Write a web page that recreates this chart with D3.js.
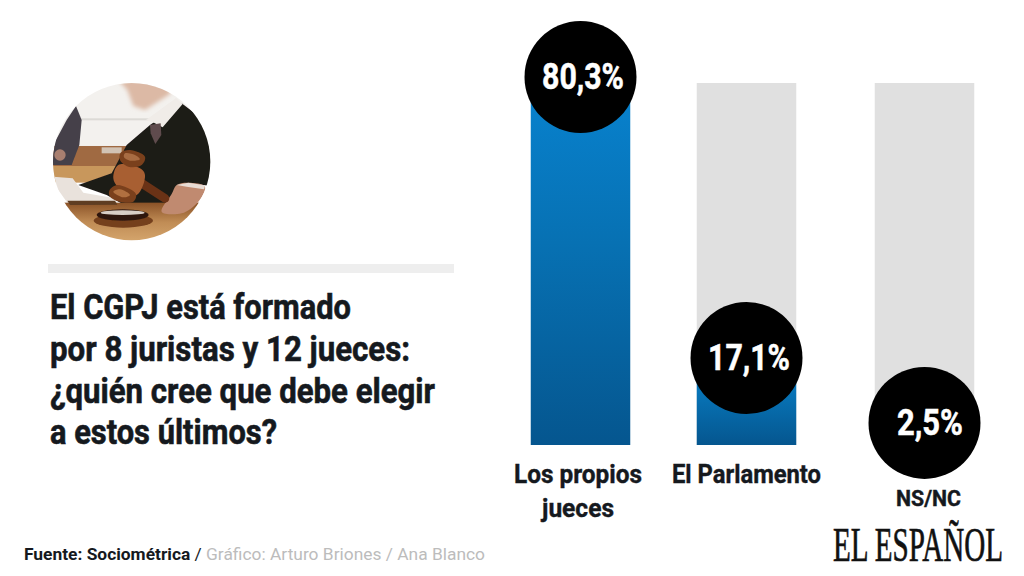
<!DOCTYPE html>
<html>
<head>
<meta charset="utf-8">
<script src="https://cdn.jsdelivr.net/npm/d3@7"></script>
<style>
html,body{margin:0;padding:0;background:#fff;}
svg{display:block;}
text{font-family:Roboto,sans-serif;font-weight:700;fill:#15191e;}
</style>
</head>
<body>
<svg id="chart"></svg>
<script>
var categories=["Los propios jueces","El Parlamento","NS/NC"];
var values=[80.3,17.1,2.5];
var valueLabels=["80,3%","17,1%","2,5%"];
var labelLines=[["Los propios","jueces"],["El Parlamento"],["NS/NC"]];
var titleLines=["El CGPJ está formado","por 8 juristas y 12 jueces:","¿quién cree que debe elegir","a estos últimos?"];

var w=1024;
var h=576;
var barWidth=99.5;
var baseline=445;
var trackTop=83;
var radius=56;

var svg=d3.select("#chart")
          .attr("width",w)
          .attr("height",h);
var defs=svg.append("defs");

var grad=defs.append("linearGradient")
             .attr("id","blue")
             .attr("x1",0).attr("y1",0).attr("x2",0).attr("y2",1);
grad.append("stop").attr("offset","0%").attr("stop-color","#0883d0");
grad.append("stop").attr("offset","45%").attr("stop-color","#0771b3");
grad.append("stop").attr("offset","100%").attr("stop-color","#05568f");

var xScale=d3.scaleOrdinal()
             .domain(categories)
             .range([580.5,746.5,924.5]);
var yScale=d3.scaleLinear()
             .domain([0,80.3])
             .range([434,77]);

// grey tracks (the first one is fully covered by its blue bar)
svg.selectAll("rect.track")
   .data(categories.slice(1))
   .enter()
   .append("rect")
   .classed("track",true)
   .attr("x",function(d){return xScale(d)-barWidth/2;})
   .attr("y",trackTop)
   .attr("width",barWidth)
   .attr("height",baseline-trackTop)
   .attr("fill","#e0e0e0");

svg.selectAll("rect.bar")
   .data(values)
   .enter()
   .append("rect")
   .classed("bar",true)
   .attr("x",function(d,i){return xScale(categories[i])-barWidth/2;})
   .attr("y",function(d){return yScale(d);})
   .attr("width",barWidth)
   .attr("height",function(d){return baseline-yScale(d);})
   .attr("fill","url(#blue)");

svg.selectAll("circle.bubble")
   .data(values)
   .enter()
   .append("circle")
   .classed("bubble",true)
   .attr("cx",function(d,i){return xScale(categories[i]);})
   .attr("cy",function(d){return yScale(d);})
   .attr("r",radius)
   .attr("fill","#000");

var valueWidths=[82,82,66];
svg.selectAll("text.value")
   .data(values)
   .enter()
   .append("text")
   .classed("value",true)
   .attr("x",function(d,i){return xScale(categories[i])+(i==2?5.5:2.5);})
   .attr("y",function(d){return yScale(d)+12;})
   .attr("text-anchor","middle")
   .attr("font-size",36)
   .attr("textLength",function(d,i){return valueWidths[i];})
   .attr("lengthAdjust","spacingAndGlyphs")
   .style("fill","#fff")
   .style("stroke","#fff")
   .style("stroke-width",0.5)
   .text(function(d,i){return valueLabels[i];});

// category labels
var labelWidths=[[128,72],[149],[65]];
var labelSizes=[26,26,22];
var labelY=[483,483,506];
labelLines.forEach(function(lines,i){
  lines.forEach(function(line,j){
    svg.append("text")
       .attr("x",i==2?928.5:(i==0?578:746.5))
       .attr("y",labelY[i]+j*34)
       .attr("text-anchor","middle")
       .attr("font-size",labelSizes[i])
       .attr("textLength",labelWidths[i][j])
       .attr("lengthAdjust","spacingAndGlyphs")
       .style("stroke","#15191e")
       .style("stroke-width",0.4)
       .text(line);
  });
});

// left column
svg.append("rect")
   .attr("x",48).attr("y",264)
   .attr("width",406).attr("height",9)
   .attr("fill","#eeeeee");

var titleWidths=[301,360,385,227];
var titleY=[319,361,403,444];
titleLines.forEach(function(line,i){
  svg.append("text")
     .attr("x",50)
     .attr("y",titleY[i])
     .attr("font-size",35)
     .attr("textLength",titleWidths[i])
     .attr("lengthAdjust","spacingAndGlyphs")
     .style("stroke","#15191e")
     .style("stroke-width",0.6)
     .text(line);
});

var foot=svg.append("text")
            .attr("x",24)
            .attr("y",560)
            .attr("font-size",16.5)
            .attr("textLength",461)
            .attr("lengthAdjust","spacingAndGlyphs");
foot.append("tspan").style("font-weight",700).text("Fuente: Sociométrica");
foot.append("tspan").style("font-weight",400).text(" / ");
foot.append("tspan").style("font-weight",400).style("fill","#bcbcbc").text("Gráfico: Arturo Briones / Ana Blanco");

// logo: squeezed with a transform so the text box stays inside the page
var logo=svg.append("text")
            .attr("font-size",48)
            .style("font-family","'Liberation Serif',serif")
            .style("font-weight",400)
            .style("fill","#111")
            .style("stroke","#111")
            .style("stroke-width",0.7)
            .text("EL ESPAÑOL");
logo.attr("transform","translate(833,561) scale("+(170/logo.node().getComputedTextLength())+",1)");

// round photo of the judge, traced in a 3x space so it lines up with the crop
defs.append("clipPath").attr("id","photoClip")
    .append("circle").attr("cx",305).attr("cy",275).attr("r",236);
var blur=defs.append("filter").attr("id","soft");
blur.append("feGaussianBlur").attr("stdDeviation",2);
var blurBig=defs.append("filter").attr("id","softer");
blurBig.append("feGaussianBlur").attr("stdDeviation",6);
var wood=defs.append("linearGradient").attr("id","table")
             .attr("x1",0).attr("y1",0).attr("x2",0).attr("y2",1);
wood.append("stop").attr("offset","0%").attr("stop-color","#8a5227");
wood.append("stop").attr("offset","45%").attr("stop-color","#c08c55");
wood.append("stop").attr("offset","100%").attr("stop-color","#d9ab72");

var photo=svg.append("g")
             .attr("transform","translate(30,70) scale(0.3333)")
             .attr("clip-path","url(#photoClip)")
             .append("g");
function shape(pts,fill,filter){
  photo.append("path")
       .attr("d",d3.line().curve(d3.curveCatmullRomClosed.alpha(0.5))(pts))
       .attr("fill",fill)
       .attr("filter",filter||"url(#soft)");
}
function poly(pts,fill,filter){
  photo.append("polygon")
       .attr("points",pts.map(function(p){return p.join(",");}).join(" "))
       .attr("fill",fill)
       .attr("filter",filter||"url(#soft)");
}
photo.append("rect").attr("x",60).attr("y",30).attr("width",500).attr("height",300).attr("fill","#f3f1ee");
photo.append("rect").attr("x",150).attr("y",145).attr("width",220).attr("height",6).attr("fill","#dcdad6").attr("filter","url(#soft)");
photo.append("rect").attr("x",60).attr("y",228).attr("width",260).attr("height",60).attr("fill","#a06b43").attr("filter","url(#soft)");
photo.append("rect").attr("x",215).attr("y",232).attr("width",60).attr("height",18).attr("fill","#d2c3b4").attr("filter","url(#soft)");
photo.append("rect").attr("x",60).attr("y",288).attr("width",260).attr("height",50).attr("fill","#c8975c").attr("filter","url(#soft)");
poly([[60,285],[75,215],[110,150],[138,108],[155,150],[148,225],[125,285]],"#45404a");
photo.append("circle").attr("cx",90).attr("cy",255).attr("r",17).attr("fill","#a97f70").attr("filter","url(#soft)");
poly([[145,345],[245,310],[290,225],[360,165],[455,100],[560,180],[560,350],[520,345],[470,340],[420,405],[300,415],[230,375]],"#1f1a18");
poly([[265,30],[425,30],[420,72],[345,120],[310,108],[292,60]],"#dcb9a5","url(#softer)");
poly([[348,150],[438,84],[458,102],[398,172],[372,158]],"#f0ece8");
poly([[360,165],[392,160],[394,195],[376,222],[362,190]],"#5f4c4d");
poly([[70,320],[128,325],[160,368],[255,385],[262,402],[112,398],[78,350]],"#e9e2dc");
photo.append("rect").attr("x",60).attr("y",398).attr("width",500).attr("height",130).attr("fill","url(#table)");
poly([[112,392],[255,392],[262,404],[120,405]],"#5e3c22");
// hand
shape([[395,425],[425,372],[440,345],[475,338],[525,350],[505,395],[455,430]],"#c08a70");
poly([[440,345],[475,338],[525,346],[522,358],[470,350]],"#e8dcd4");
// sound block
photo.append("ellipse").attr("cx",280).attr("cy",452).attr("rx",89).attr("ry",21).attr("fill","#74401f").attr("filter","url(#soft)");
photo.append("ellipse").attr("cx",278).attr("cy",435).attr("rx",78).attr("ry",17).attr("fill","#2e1810").attr("filter","url(#soft)");
photo.append("ellipse").attr("cx",278).attr("cy",428).attr("rx",66).attr("ry",7).attr("fill","#d8cec6").attr("filter","url(#soft)");
// gavel
photo.append("line").attr("x1",320).attr("y1",330).attr("x2",405).attr("y2",385)
     .attr("stroke","#6a3216").attr("stroke-width",26).attr("stroke-linecap","round");
shape([[265,285],[330,295],[345,315],[320,375],[265,352],[250,325]],"#a85f33");
shape([[272,248],[300,240],[345,260],[335,285],[295,290],[270,270]],"#7a3f1c");
shape([[285,250],[315,255],[330,268],[300,272],[282,262]],"#a86c42");
shape([[238,362],[262,345],[318,372],[310,395],[270,395],[240,380]],"#7a3f1c");
shape([[250,365],[270,358],[300,375],[280,382]],"#b0703f");
</script>
</body>
</html>
